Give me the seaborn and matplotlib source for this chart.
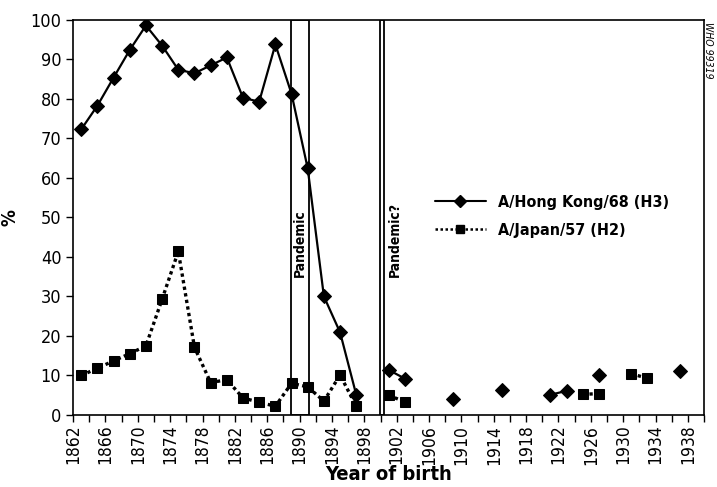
import numpy as np
import pandas as pd
import matplotlib
matplotlib.use("Agg")
import matplotlib.pyplot as plt
import seaborn as sns
from matplotlib.lines import Line2D
from matplotlib.patches import Rectangle

# Data (NaN = no value for that birth year)
years = list(range(1863, 1938, 2))

hong_kong = [72.3, 78.3, 85.4, 92.4, 98.6, 93.5, 87.4, 86.5, 88.5, 90.5,
             80.3, 79.3, 93.8, 81.3, 62.4, 30.0, 20.9, 5.1, np.nan, 11.4,
             9.2, np.nan, np.nan, 4.0, np.nan, np.nan, 6.2, np.nan, np.nan, 5.1,
             6.1, np.nan, 10.0, np.nan, np.nan, np.nan, np.nan, 11.2]

japan = [10.0, 11.8, 13.7, 15.5, 17.5, 29.3, 41.4, 17.1, 8.2, 8.9,
         4.3, 3.2, 2.2, 8.0, 7.1, 3.5, 10.1, 2.2, np.nan, 5.0,
         3.3, np.nan, np.nan, np.nan, np.nan, np.nan, np.nan, np.nan, np.nan, np.nan,
         np.nan, 5.2, 5.4, np.nan, 10.4, 9.3, np.nan, np.nan]

series_names = ["A/Hong Kong/68 (H3)", "A/Japan/57 (H2)"]

# pandemic periods (start, end) and their labels
pandemics = [(1888.9, 1891.1), (1899.9, 1900.4)]
pandemic_labels = ["Pandemic", "Pandemic?"]


def to_frame(values):
    df = pd.DataFrame({"year": years, "value": values})
    # break the line wherever a value is missing
    df["seg"] = df["value"].isna().cumsum()
    return df.dropna()


sns.set_style("ticks")
plt.rcParams["font.family"] = ["DejaVu Sans"]
plt.rcParams["font.stretch"] = "condensed"
plt.rcParams["text.color"] = "black"
plt.rcParams["axes.labelcolor"] = "black"
plt.rcParams["xtick.color"] = "black"
plt.rcParams["ytick.color"] = "black"

fig = plt.figure(figsize=(7.17, 4.87), dpi=100)
ax = fig.add_axes([0.102, 0.148, 0.880, 0.811])

hk = to_frame(hong_kong)
jp = to_frame(japan)

sns.lineplot(data=hk, x="year", y="value", units="seg", estimator=None,
             color="black", linewidth=1.6, marker="D", markersize=7,
             markeredgecolor="black", ax=ax)
sns.lineplot(data=jp, x="year", y="value", units="seg", estimator=None,
             color="black", linewidth=2.4, linestyle=(0, (1, 1)),
             marker="s", markersize=6.5, markeredgecolor="black", ax=ax)

# pandemic boxes
for (x0, x1), label in zip(pandemics, pandemic_labels):
    ax.add_patch(Rectangle((x0, 0), x1 - x0, 100, fill=False,
                           edgecolor="black", linewidth=1.3, zorder=3))
    tx = (x0 + x1) / 2 if x1 - x0 > 1 else x1 + 1.4
    ax.text(tx, 35, label, rotation=90, ha="center", va="bottom",
            fontsize=10, fontweight="bold")

ax.set_xlim(1862, 1940)
ax.set_ylim(0, 100)
ax.set_xticks(range(1862, 1940, 4))
ax.set_xticks(range(1864, 1941, 4), minor=True)
ax.set_yticks(range(0, 101, 10))
ax.tick_params(axis="x", which="both", direction="out", length=5, width=1,
               labelsize=12.5, labelrotation=90, pad=2)
ax.tick_params(axis="y", direction="out", length=5, width=1, labelsize=13)

for side in ["top", "right", "left", "bottom"]:
    ax.spines[side].set_visible(True)
    ax.spines[side].set_linewidth(1.2)
    ax.spines[side].set_color("black")

ax.set_xlabel("Year of birth", fontsize=14.5, fontweight="bold", labelpad=0)
ax.set_ylabel("%", fontsize=13.5, fontweight="bold", labelpad=8)

handles = [
    Line2D([], [], color="black", linewidth=1.5, marker="D", markersize=6),
    Line2D([], [], color="black", linewidth=1.8, linestyle=(0, (1, 1)),
           marker="s", markersize=5.5),
]
ax.legend(handles, series_names, loc="upper left",
          bbox_to_anchor=(0.55, 0.593), frameon=False, handlelength=3.2,
          prop={"size": 11.5, "weight": "bold", "stretch": "condensed"},
          labelspacing=0.8, handletextpad=0.8)

fig.text(0.988, 0.955, "WHO 99319", rotation=-90, ha="center", va="top",
         fontsize=7.5, style="italic")

fig.savefig("out.png", dpi=100)
